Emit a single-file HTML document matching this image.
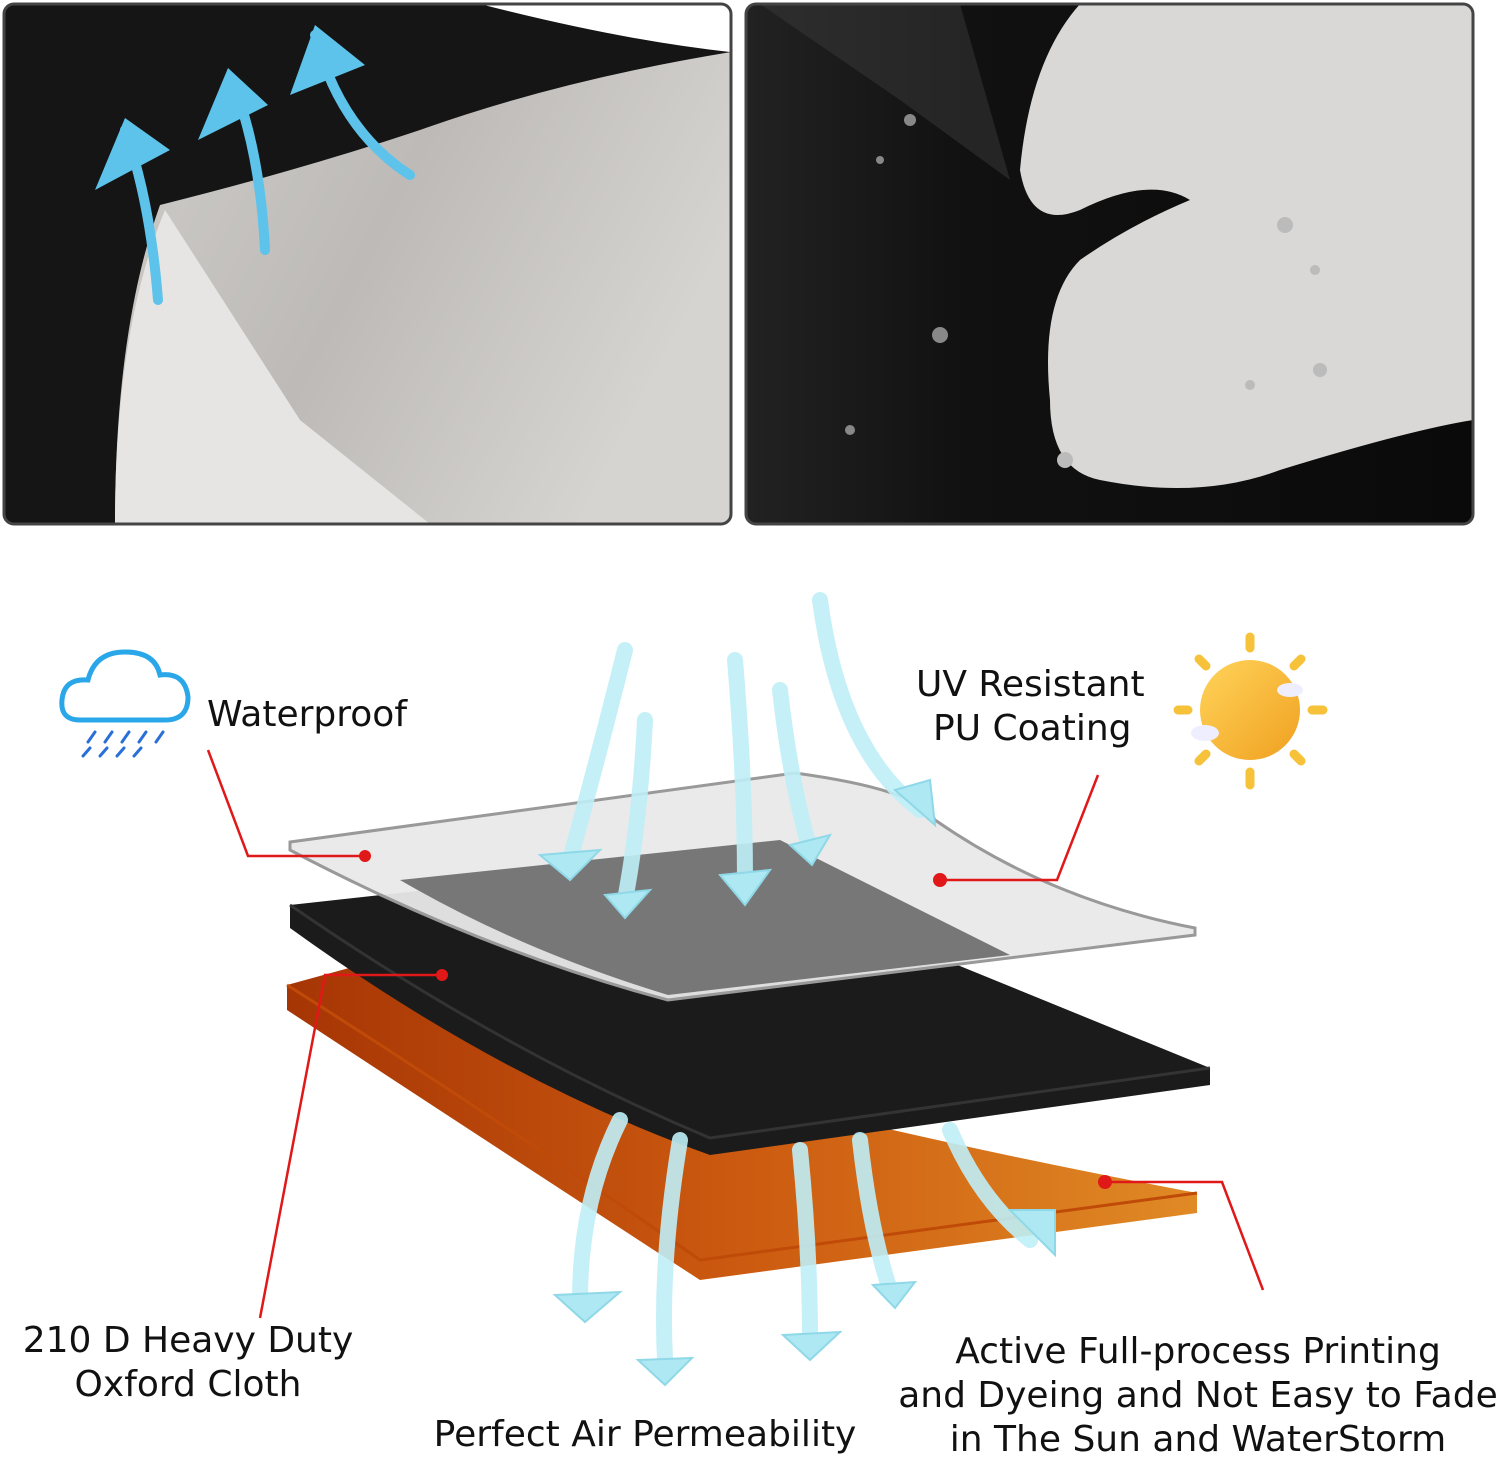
<!DOCTYPE html>
<html><head><meta charset="utf-8"><style>
body{margin:0;background:#fff;width:1500px;height:1459px;overflow:hidden}
svg{display:block}
text{font-family:"DejaVu Sans","Liberation Sans",sans-serif;font-size:36px;fill:#111}
</style></head><body>
<svg width="1500" height="1459" viewBox="0 0 1500 1459" xmlns="http://www.w3.org/2000/svg">
<defs>
<linearGradient id="g1" x1="0" y1="0" x2="1" y2="0.4"><stop offset="0" stop-color="#cfcdca"/><stop offset="0.5" stop-color="#bdbab7"/><stop offset="1" stop-color="#d6d4d1"/></linearGradient>
<linearGradient id="g2" x1="0" y1="0" x2="1" y2="0"><stop offset="0" stop-color="#222"/><stop offset="0.3" stop-color="#111"/><stop offset="1" stop-color="#0a0a0a"/></linearGradient>
<linearGradient id="or" x1="0" y1="0" x2="1" y2="0"><stop offset="0" stop-color="#a63505"/><stop offset="0.5" stop-color="#cc5a10"/><stop offset="1" stop-color="#e08a25"/></linearGradient>
<linearGradient id="sun" x1="0" y1="0" x2="1" y2="1"><stop offset="0" stop-color="#ffd45a"/><stop offset="1" stop-color="#f0a020"/></linearGradient>
<filter id="bl"><feGaussianBlur stdDeviation="4"/></filter>
<clipPath id="c1"><rect x="4" y="4" width="727" height="520" rx="10"/></clipPath>
<clipPath id="c2"><rect x="746" y="4" width="727" height="520" rx="10"/></clipPath>
</defs>
<!-- left panel -->
<g clip-path="url(#c1)">
<rect x="4" y="4" width="727" height="520" fill="#151515"/>
<path d="M480 4 Q620 40 730 52 L731 4 Z" fill="#fff"/>
<path d="M160 205 Q300 170 420 130 Q560 80 731 52 L731 524 L115 524 Q115 330 160 205 Z" fill="url(#g1)"/>
<path d="M165 210 L300 420 L430 524 L115 524 Q115 330 165 210 Z" fill="#e6e5e3"/>
<g fill="none" stroke="#5ec3ea" stroke-width="10" stroke-linecap="round">
<path d="M158 300 Q150 200 125 130"/><path d="M265 250 Q260 150 232 80"/><path d="M410 175 Q340 130 315 35"/>
</g>
<g fill="#5ec3ea"><path d="M95 190 L125 118 L170 150 Z"/><path d="M198 140 L228 68 L268 105 Z"/><path d="M290 95 L315 25 L365 65 Z"/></g>
</g>
<rect x="4" y="4" width="727" height="520" rx="10" fill="none" stroke="#444" stroke-width="3"/>
<!-- right panel -->
<g clip-path="url(#c2)">
<rect x="746" y="4" width="727" height="520" fill="url(#g2)"/>
<path d="M760 4 L960 4 L1010 180 L900 100 Z" fill="#3a3a3a" opacity="0.5"/>
<path d="M1080 4 L1473 4 L1473 420 Q1410 430 1280 470 Q1200 500 1100 480 Q1050 470 1050 400 Q1040 300 1080 260 Q1130 225 1190 200 Q1150 175 1080 210 Q1030 230 1020 170 Q1030 60 1080 4 Z" fill="#d9d8d6"/>
<g fill="#bbb"><circle cx="1315" cy="270" r="5"/><circle cx="1285" cy="225" r="8"/><circle cx="1320" cy="370" r="7"/><circle cx="1065" cy="460" r="8"/><circle cx="1250" cy="385" r="5"/></g>
<g fill="#888"><circle cx="910" cy="120" r="6"/><circle cx="880" cy="160" r="4"/><circle cx="940" cy="335" r="8"/><circle cx="850" cy="430" r="5"/></g>
</g>
<rect x="746" y="4" width="727" height="520" rx="10" fill="none" stroke="#444" stroke-width="3"/>
<!-- layers -->
<path d="M287 985 L360 965 Q600 1080 1197 1193 L1197 1213 L700 1280 Q500 1150 287 1010 Z" fill="url(#or)"/>
<path d="M287 985 Q500 1120 700 1260 L1197 1193" fill="none" stroke="#c04a08" stroke-width="3"/>
<path d="M290 905 L700 860 L1210 1068 L1210 1085 L710 1155 Q500 1080 290 928 Z" fill="#1b1b1b"/>
<path d="M290 905 Q500 1050 710 1138 L1210 1068" fill="none" stroke="#333" stroke-width="3"/>
<path d="M290 842 L795 773 Q920 790 935 820 Q1050 900 1195 928 L1195 935 L668 1000 Q480 950 290 850 Z" fill="#e9e9e9" opacity="0.95"/>
<path d="M400 880 L780 840 L1010 955 L668 995 Q520 950 400 880 Z" fill="#777"/>
<path d="M290 842 L795 773 Q920 790 935 820 Q1050 900 1195 928 L1195 935 L668 1000 Q480 950 290 850 Z" fill="none" stroke="#999" stroke-width="3"/>
<!-- air arrows -->
<g fill="none" stroke="#bfeff7" stroke-width="16" stroke-linecap="round" opacity="0.9">
<path d="M625 650 Q600 750 570 860"/><path d="M645 720 Q640 820 625 900"/><path d="M735 660 Q745 780 745 880"/><path d="M780 690 Q790 780 810 850"/><path d="M820 600 Q840 750 920 810"/>
<path d="M620 1120 Q580 1200 580 1300"/><path d="M680 1140 Q660 1260 665 1360"/><path d="M800 1150 Q810 1250 810 1340"/><path d="M860 1140 Q870 1230 890 1290"/><path d="M950 1130 Q980 1200 1030 1240"/>
</g>
<g fill="#aee8f2" stroke="#8fd8e8" stroke-width="2">
<path d="M540 855 L570 880 L600 850 Z"/><path d="M605 895 L625 918 L650 890 Z"/><path d="M720 875 L745 905 L770 870 Z"/><path d="M790 845 L812 865 L830 835 Z"/><path d="M895 790 L935 825 L930 780 Z"/>
<path d="M555 1295 L585 1322 L620 1292 Z"/><path d="M638 1360 L665 1385 L692 1358 Z"/><path d="M783 1335 L810 1360 L840 1332 Z"/><path d="M873 1285 L895 1308 L915 1282 Z"/><path d="M1010 1210 L1055 1255 L1055 1210 Z"/>
</g>
<!-- red leaders -->
<g fill="none" stroke="#e01818" stroke-width="2.5">
<path d="M208 750 L248 856 L365 856"/><path d="M1098 775 L1057 880 L940 880"/><path d="M260 1318 L325 975 L442 975"/><path d="M1263 1290 L1222 1182 L1105 1182"/>
</g>
<g fill="#e01818"><circle cx="365" cy="856" r="6"/><circle cx="940" cy="880" r="7"/><circle cx="442" cy="975" r="6"/><circle cx="1105" cy="1182" r="7"/></g>
<!-- cloud -->
<path d="M80 720 Q60 720 62 700 Q64 678 88 680 Q95 652 125 652 Q155 652 160 675 Q185 672 188 697 Q188 720 165 720 Z" fill="#fff" stroke="#2aa7e8" stroke-width="5"/>
<g stroke="#2a6fd8" stroke-width="3" stroke-linecap="round"><path d="M95 732 L88 742 M112 732 L105 742 M129 732 L122 742 M146 732 L139 742 M163 732 L156 742 M90 748 L83 756 M107 748 L100 756 M124 748 L117 756 M141 748 L134 756"/></g>
<!-- sun -->
<circle cx="1250" cy="710" r="50" fill="url(#sun)"/>
<g stroke="#f6c23a" stroke-width="9" stroke-linecap="round"><path d="M1250 637 L1250 648 M1250 772 L1250 785 M1178 710 L1188 710 M1312 710 L1323 710 M1199 659 L1206 666 M1294 754 L1301 761 M1301 659 L1294 666 M1206 754 L1199 761"/></g>
<ellipse cx="1290" cy="690" rx="13" ry="7" fill="#eef"/><ellipse cx="1205" cy="733" rx="14" ry="8" fill="#eef"/>
<!-- labels -->
<text x="207" y="726">Waterproof</text>
<text x="916" y="696">UV Resistant</text>
<text x="933" y="740">PU Coating</text>
<text x="188" y="1352" text-anchor="middle">210 D Heavy Duty</text>
<text x="188" y="1396" text-anchor="middle">Oxford Cloth</text>
<text x="645" y="1446" text-anchor="middle">Perfect Air Permeability</text>
<text x="1198" y="1363" text-anchor="middle">Active Full-process Printing</text>
<text x="1198" y="1407" text-anchor="middle">and Dyeing and Not Easy to Fade</text>
<text x="1198" y="1451" text-anchor="middle">in The Sun and WaterStorm</text>
</svg>
</body></html>
